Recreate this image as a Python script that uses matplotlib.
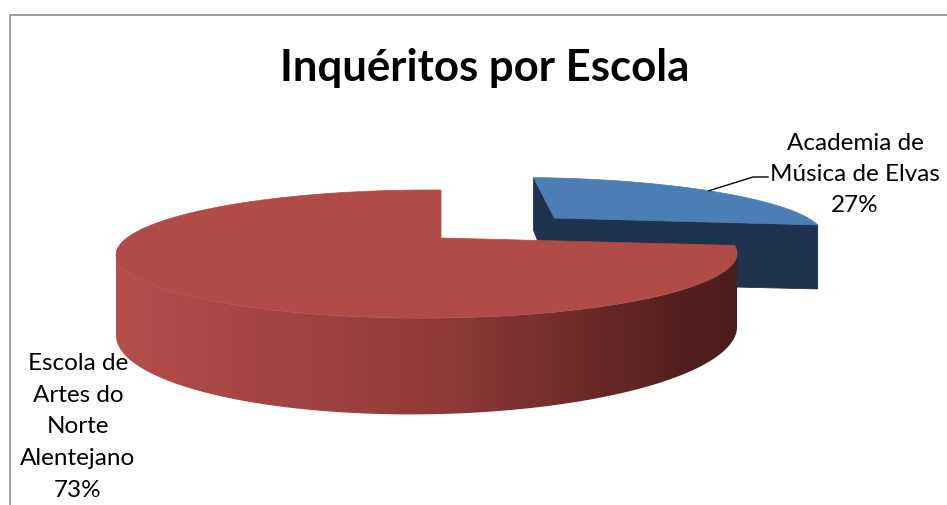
import numpy as np
import matplotlib
matplotlib.use('Agg')
import matplotlib.pyplot as plt
from matplotlib.patches import Polygon

# ---------------- data ----------------
categories = ['Academia de Música de Elvas', 'Escola de Artes do Norte Alentejano']
label_lines = [['Academia de', 'Música de Elvas'],
               ['Escola de', 'Artes do', 'Norte', 'Alentejano']]
values = [27, 73]
explode = [0.56, 0.0]
title = 'Inquéritos por Escola'

# ---------------- style ----------------
top_colors = [(74/255, 126/255, 181/255), (177/255, 75/255, 72/255)]
side_blue = (31/255, 51/255, 79/255)
red_grad = [(100, (182, 79, 76)), (430, (146, 60, 58)), (690, (82, 31, 30)), (760, (72, 28, 28))]
FONT = 'Lato'

W, H = 947, 505
fig = plt.figure(figsize=(W/100, H/100), dpi=100)
ax = fig.add_axes([0, 0, 1, 1])
ax.set_xlim(0, W)
ax.set_ylim(H, 0)
ax.axis('off')

# perspective projection of the pie disk (world radius 1)
CX, CY, A, B, K, M, HT = 441, 238, 300, 60, 0.25, 0.045, 72


def proj(x, y, z):
    w = 1 + K*y + M*x
    return CX + A*x/w, CY - (B*y + HT*z)/w


def area(pts):
    s = 0
    for i in range(len(pts)):
        x1, y1 = pts[i]
        x2, y2 = pts[(i+1) % len(pts)]
        s += x1*y2 - x2*y1
    return s/2


# horizontal gradient image for the red side
gx = np.arange(0, W)
xs = [p[0] for p in red_grad]
grad = np.stack([np.interp(gx, xs, [p[1][c] for p in red_grad]) / 255 for c in range(3)], axis=-1)
grad_img = np.repeat(grad[None, :, :], 2, axis=0)

total = sum(values)
cur = 90.0
slices = []
for i, v in enumerate(values):
    span = 360.0*v/total
    th2 = cur
    th1 = cur - span
    cur = th1
    slices.append((i, th1, th2))

rim_pts = {}
for i, th1, th2 in slices:
    mid = np.radians((th1+th2)/2)
    ox, oy = explode[i]*np.cos(mid), explode[i]*np.sin(mid)
    n = max(int(abs(th2-th1))*2, 6)
    ths = np.radians(np.linspace(th1, th2, n))
    world = [(ox, oy)] + [(ox+np.cos(t), oy+np.sin(t)) for t in ths]
    edges = [(world[k], world[k+1]) for k in range(len(world)-1)] + [(world[-1], world[0])]
    vis_quads = []
    for p, q in edges:
        quad = [proj(p[0], p[1], 0), proj(q[0], q[1], 0), proj(q[0], q[1], -1), proj(p[0], p[1], -1)]
        if area(quad) > 0:
            vis_quads.append(quad)
    if i == 0:
        for quad in vis_quads:
            ax.add_patch(Polygon(quad, closed=True, facecolor=side_blue, edgecolor=side_blue, lw=0.6))
    else:
        # contiguous visible outer side -> one polygon filled with a gradient
        tops = [vis_quads[0][0]] + [qd[1] for qd in vis_quads]
        bots = [vis_quads[0][3]] + [qd[2] for qd in vis_quads]
        side_poly = Polygon(tops + bots[::-1], closed=True, facecolor='none', edgecolor='none')
        ax.add_patch(side_poly)
        im = ax.imshow(grad_img, extent=(0, W, 0, H), aspect='auto', origin='upper',
                       interpolation='bilinear', zorder=1)
        im.set_clip_path(side_poly)
    top = [proj(x, y, 0) for x, y in world]
    ax.add_patch(Polygon(top, closed=True, facecolor=top_colors[i], edgecolor=top_colors[i],
                         lw=0.5, zorder=2 if i == 1 else 1))
    rim_pts[i] = (ox + np.cos(mid), oy + np.sin(mid))

ax.set_xlim(0, W)
ax.set_ylim(H, 0)

# frame (cropped chart area border)
ax.plot([10, 10, W], [H, 15, 15], color='#8c8c8c', lw=1.2, solid_capstyle='butt', zorder=3)

# title
ax.text(485, 81, title, ha='center', va='baseline', fontsize=31.5, fontweight='bold',
        family=FONT, color='black', zorder=3)

# labels
pct = [f'{round(v/total*100)}%' for v in values]
right_lines = label_lines[0] + [pct[0]]
for k, s in enumerate(right_lines):
    ax.text(855, 150 + 31*k, s, ha='center', va='baseline', fontsize=17.5, family=FONT, zorder=3)
left_lines = label_lines[1] + [pct[1]]
for k, s in enumerate(left_lines):
    ax.text(78, 370 + 31.7*k, s, ha='center', va='baseline', fontsize=17.5, family=FONT, zorder=3)

# leader line for the blue slice
lx, ly = proj(*rim_pts[0], 0)
ax.plot([lx, 753, 768], [ly, 177, 177], color='black', lw=1.0, zorder=3)

fig.savefig('out.png', dpi=100)
